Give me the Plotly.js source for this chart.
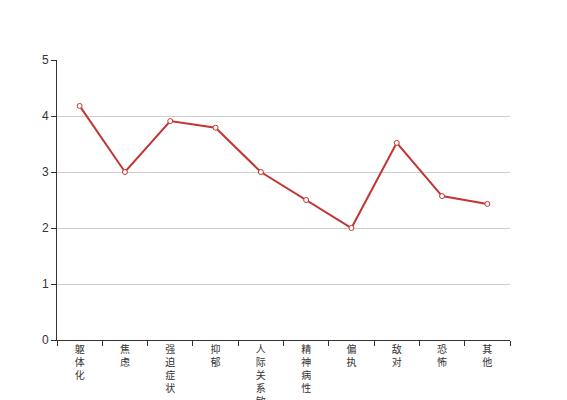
<!DOCTYPE html>
<html>
<head>
<meta charset="utf-8">
<script src="https://cdn.plot.ly/plotly-3.0.1.min.js"></script>
<style>html,body{margin:0;padding:0;background:#fff;}#chart{width:567px;height:400px;}</style>
</head>
<body>
<div id="chart"></div>
<script>
var categories = ["躯体化", "焦虑", "强迫症状", "抑郁", "人际关系敏感", "精神病性", "偏执", "敌对", "恐怖", "其他"];
var values = [4.18, 3.0, 3.91, 3.79, 3.0, 2.5, 2.0, 3.52, 2.57, 2.43];
var yTicks = [0, 1, 2, 3, 4, 5];

var verticalLabels = categories.map(function (c) { return c.split("").join("<br>"); });

var trace = {
  type: "scatter",
  mode: "lines+markers",
  x: categories,
  y: values,
  line: { color: "#c23531", width: 2 },
  marker: { symbol: "circle", size: 5, color: "#ffffff", line: { color: "#c23531", width: 1 } },
  hoverinfo: "x+y"
};

var layout = {
  width: 567,
  height: 400,
  margin: { l: 57, r: 57, t: 60, b: 60 },
  paper_bgcolor: "#ffffff",
  plot_bgcolor: "#ffffff",
  showlegend: false,
  font: { family: "Liberation Sans, Noto Sans CJK SC, sans-serif", color: "#333333", size: 12 },
  xaxis: {
    type: "category",
    tickmode: "array",
    tickvals: categories,
    ticktext: verticalLabels,
    tickson: "boundaries",
    range: [-0.5, categories.length - 0.5],
    showgrid: false,
    showline: true,
    linecolor: "#333333",
    linewidth: 1,
    ticks: "outside",
    ticklen: 5,
    tickcolor: "#333333",
    tickangle: 0,
    tickfont: { family: "Noto Sans CJK SC, sans-serif", size: 10, color: "#333333" },
    zeroline: false,
    fixedrange: true
  },
  yaxis: {
    range: [0, 5],
    tickmode: "array",
    tickvals: yTicks,
    ticktext: yTicks.map(String),
    showgrid: true,
    gridcolor: "#cccccc",
    gridwidth: 1,
    showline: true,
    linecolor: "#333333",
    linewidth: 1,
    ticks: "outside",
    ticklen: 5,
    tickcolor: "#333333",
    tickfont: { size: 12, color: "#333333" },
    zeroline: false,
    fixedrange: true
  }
};

Plotly.newPlot("chart", [trace], layout, { displayModeBar: false, staticPlot: true });
</script>
</body>
</html>
